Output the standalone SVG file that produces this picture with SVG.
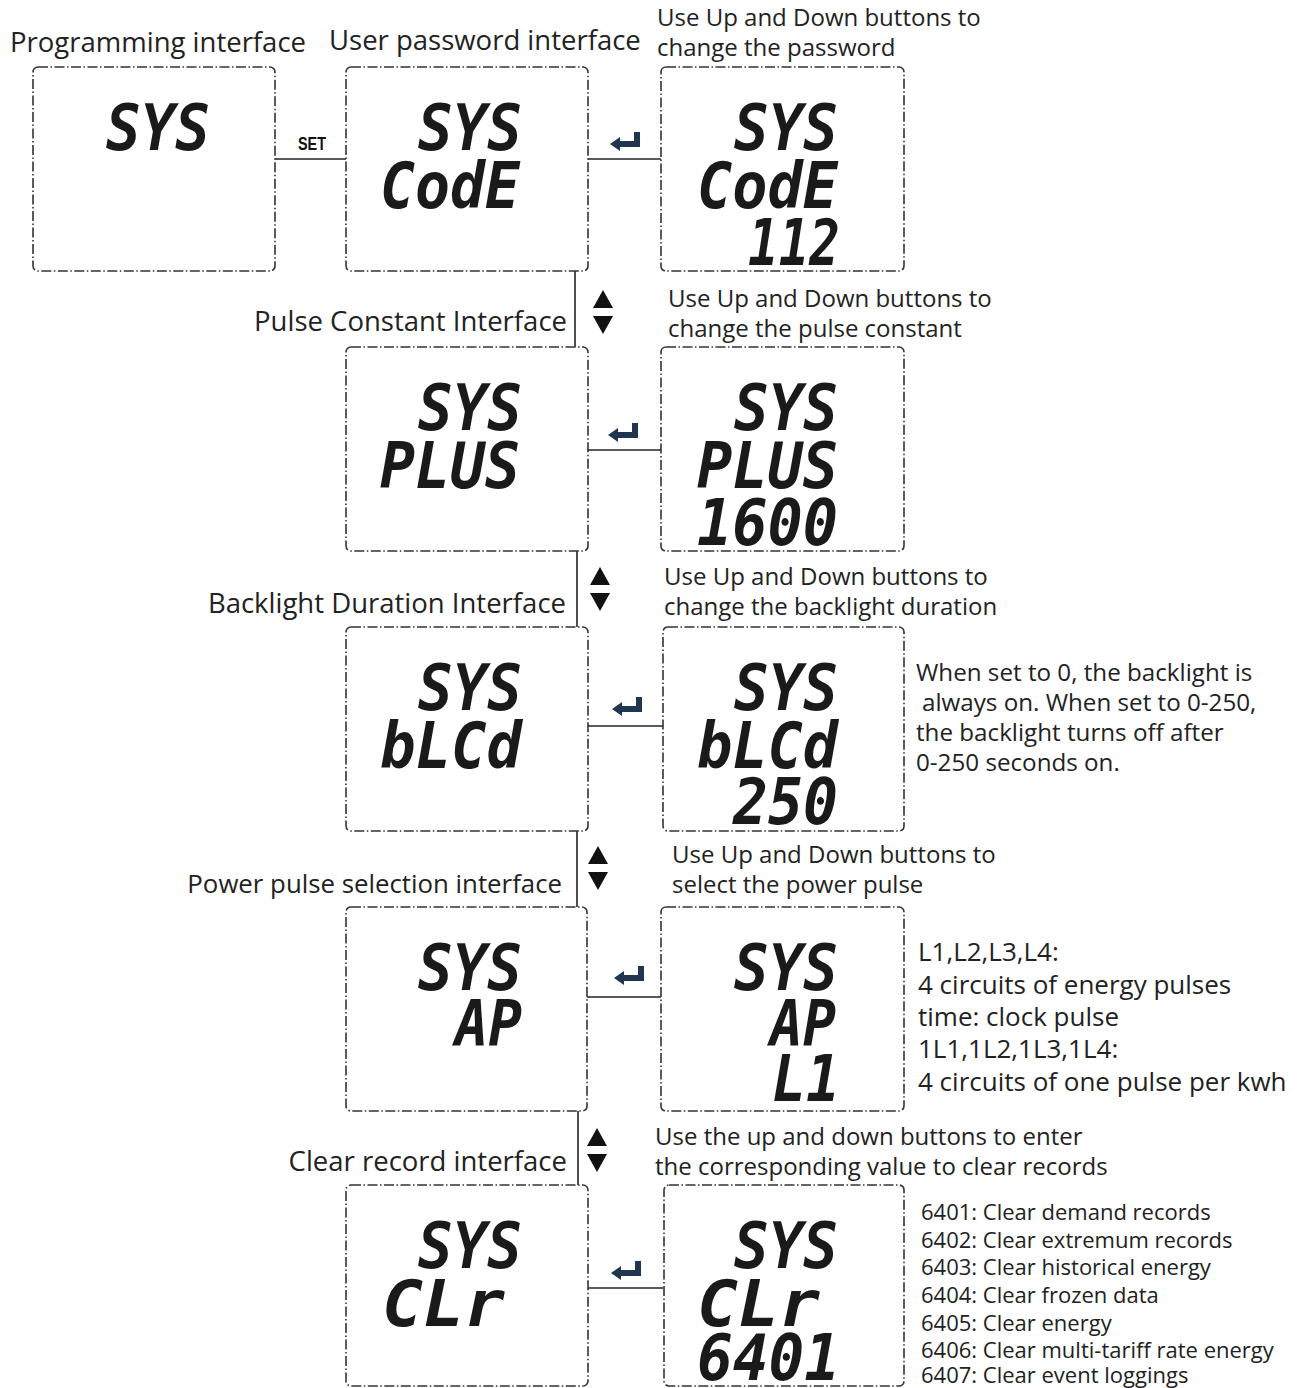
<svg xmlns="http://www.w3.org/2000/svg" width="1304" height="1388" viewBox="0 0 1304 1388">
<style>
.box{fill:#fff;stroke:#333;stroke-width:1.6;stroke-dasharray:10 2.5 1.5 2.5}
.lcd{font-family:"DejaVu Sans Mono",monospace;font-weight:bold;font-style:oblique;font-size:64px;fill:#1a1a1a}
.lbl{font-family:"Open Sans","Noto Sans",sans-serif;font-size:27.5px;fill:#222}
.hint{font-family:"Open Sans","Noto Sans",sans-serif;font-size:24px;fill:#222}
.note{font-family:"Open Sans","Noto Sans",sans-serif;font-size:24.2px;fill:#222}
.note3{font-family:"Open Sans","Noto Sans",sans-serif;font-size:26px;fill:#222}
.note2{font-family:"Open Sans","Noto Sans",sans-serif;font-size:22px;fill:#222}
.conn{stroke:#222;stroke-width:1.6;fill:none}
.tri{fill:#111}
</style>
<defs>
<g id="enter"><path d="M0,12 L10,5 L10,9 L24,9 L24,0 L30,0 L30,15 L10,15 L10,19 Z" fill="#1f3550"/></g>
<g id="updown"><path d="M0,18 L10,0 L20,18 Z M0,26 L20,26 L10,44 Z" class="tri"/></g>
</defs>
<rect width="1304" height="1388" fill="#fff"/>

<g id="connectors">
<line class="conn" x1="275" y1="159" x2="346" y2="159"/>
<line class="conn" x1="588" y1="159" x2="661" y2="159"/>
<line class="conn" x1="588" y1="450" x2="661" y2="450"/>
<line class="conn" x1="588" y1="726" x2="663" y2="726"/>
<line class="conn" x1="587" y1="997" x2="661" y2="997"/>
<line class="conn" x1="588" y1="1288" x2="663" y2="1288"/>
<line class="conn" x1="575" y1="271" x2="575" y2="347"/>
<line class="conn" x1="577" y1="551" x2="577" y2="627"/>
<line class="conn" x1="577" y1="831" x2="577" y2="907"/>
<line class="conn" x1="578" y1="1111" x2="578" y2="1185"/>
<text x="312" y="150" text-anchor="middle" font-family="Liberation Sans Narrow,Liberation Sans,sans-serif" font-weight="bold" font-size="19" textLength="28" lengthAdjust="spacingAndGlyphs" fill="#111">SET</text>
<use href="#enter" x="610" y="132"/>
<use href="#enter" x="608" y="423"/>
<use href="#enter" x="612" y="697"/>
<use href="#enter" x="614" y="966"/>
<use href="#enter" x="611" y="1261"/>
<use href="#updown" x="593" y="290"/>
<use href="#updown" x="590" y="567"/>
<use href="#updown" x="588" y="846"/>
<use href="#updown" x="587" y="1128"/>
</g>

<g id="labels">
<text class="lbl" x="10" y="52">Programming interface</text>
<text class="lbl" x="329" y="50">User password interface</text>
<text class="hint" x="657" y="26">Use Up and Down buttons to</text>
<text class="hint" x="657" y="56">change the password</text>
<text class="lbl" x="567" y="331" text-anchor="end">Pulse Constant Interface</text>
<text class="hint" x="668" y="307">Use Up and Down buttons to</text>
<text class="hint" x="668" y="337">change the pulse constant</text>
<text class="lbl" x="566" y="613" text-anchor="end">Backlight Duration Interface</text>
<text class="hint" x="664" y="585">Use Up and Down buttons to</text>
<text class="hint" x="664" y="615">change the backlight duration</text>
<text class="lbl" x="562" y="893" text-anchor="end" style="font-size:25.8px">Power pulse selection interface</text>
<text class="hint" x="672" y="863">Use Up and Down buttons to</text>
<text class="hint" x="672" y="893">select the power pulse</text>
<text class="lbl" x="567" y="1171" text-anchor="end">Clear record interface</text>
<text class="hint" x="655" y="1145">Use the up and down buttons to enter</text>
<text class="hint" x="655" y="1175">the corresponding value to clear records</text>
</g>

<g id="n-prog">
<rect class="box" x="33" y="67" width="242" height="204" rx="5"/>
<text class="lcd" x="210" y="150" text-anchor="end" textLength="104" lengthAdjust="spacingAndGlyphs">SYS</text>
</g>
<g id="n-code">
<rect class="box" x="346" y="67" width="242" height="204" rx="5"/>
<text class="lcd" x="522" y="150" text-anchor="end" textLength="104" lengthAdjust="spacingAndGlyphs">SYS</text>
<text class="lcd" x="520" y="208" text-anchor="end" textLength="140" lengthAdjust="spacingAndGlyphs">CodE</text>
</g>
<g id="n-code-set">
<rect class="box" x="661" y="67" width="243" height="204" rx="5"/>
<text class="lcd" x="838" y="150" text-anchor="end" textLength="104" lengthAdjust="spacingAndGlyphs">SYS</text>
<text class="lcd" x="838" y="208" text-anchor="end" textLength="141" lengthAdjust="spacingAndGlyphs">CodE</text>
<text class="lcd" x="840" y="265" text-anchor="end" textLength="92" lengthAdjust="spacingAndGlyphs">112</text>
</g>

<g id="n-plus">
<rect class="box" x="346" y="347" width="242" height="204" rx="5"/>
<text class="lcd" x="522" y="430" text-anchor="end" textLength="104" lengthAdjust="spacingAndGlyphs">SYS</text>
<text class="lcd" x="520" y="488" text-anchor="end" textLength="140" lengthAdjust="spacingAndGlyphs">PLUS</text>
</g>
<g id="n-plus-set">
<rect class="box" x="661" y="347" width="243" height="204" rx="5"/>
<text class="lcd" x="838" y="430" text-anchor="end" textLength="104" lengthAdjust="spacingAndGlyphs">SYS</text>
<text class="lcd" x="838" y="488" text-anchor="end" textLength="141" lengthAdjust="spacingAndGlyphs">PLUS</text>
<text class="lcd" x="838" y="545" text-anchor="end" textLength="141" lengthAdjust="spacingAndGlyphs">1600</text>
</g>

<g id="n-blcd">
<rect class="box" x="346" y="627" width="242" height="204" rx="5"/>
<text class="lcd" x="522" y="710" text-anchor="end" textLength="104" lengthAdjust="spacingAndGlyphs">SYS</text>
<text class="lcd" x="522" y="768" text-anchor="end" textLength="142" lengthAdjust="spacingAndGlyphs">bLCd</text>
</g>
<g id="n-blcd-set">
<rect class="box" x="663" y="627" width="241" height="204" rx="5"/>
<text class="lcd" x="838" y="710" text-anchor="end" textLength="104" lengthAdjust="spacingAndGlyphs">SYS</text>
<text class="lcd" x="838" y="768" text-anchor="end" textLength="141" lengthAdjust="spacingAndGlyphs">bLCd</text>
<text class="lcd" x="838" y="824" text-anchor="end" textLength="105" lengthAdjust="spacingAndGlyphs">250</text>
</g>
<g id="note-blcd">
<text class="note" x="916" y="681">When set to 0, the backlight is</text>
<text class="note" x="922" y="711">always on. When set to 0-250,</text>
<text class="note" x="916" y="741">the backlight turns off after</text>
<text class="note" x="916" y="771">0-250 seconds on.</text>
</g>

<g id="n-ap">
<rect class="box" x="346" y="907" width="241" height="204" rx="5"/>
<text class="lcd" x="522" y="990" text-anchor="end" textLength="104" lengthAdjust="spacingAndGlyphs">SYS</text>
<text class="lcd" x="522" y="1046" text-anchor="end" textLength="67" lengthAdjust="spacingAndGlyphs">AP</text>
</g>
<g id="n-ap-set">
<rect class="box" x="661" y="907" width="243" height="204" rx="5"/>
<text class="lcd" x="838" y="990" text-anchor="end" textLength="104" lengthAdjust="spacingAndGlyphs">SYS</text>
<text class="lcd" x="836" y="1046" text-anchor="end" textLength="66" lengthAdjust="spacingAndGlyphs">AP</text>
<text class="lcd" x="840" y="1101" text-anchor="end" textLength="68" lengthAdjust="spacingAndGlyphs">L1</text>
</g>
<g id="note-ap">
<text class="note3" x="918" y="961">L1,L2,L3,L4:</text>
<text class="note3" x="918" y="994">4 circuits of energy pulses</text>
<text class="note3" x="918" y="1026">time: clock pulse</text>
<text class="note3" x="918" y="1058">1L1,1L2,1L3,1L4:</text>
<text class="note3" x="918" y="1091">4 circuits of one pulse per kwh</text>
</g>

<g id="n-clr">
<rect class="box" x="346" y="1185" width="242" height="201" rx="5"/>
<text class="lcd" x="522" y="1268" text-anchor="end" textLength="104" lengthAdjust="spacingAndGlyphs">SYS</text>
<text class="lcd" x="505" y="1326" text-anchor="end" textLength="123" lengthAdjust="spacingAndGlyphs">CLr</text>
</g>
<g id="n-clr-set">
<rect class="box" x="664" y="1185" width="240" height="201" rx="5"/>
<text class="lcd" x="838" y="1268" text-anchor="end" textLength="104" lengthAdjust="spacingAndGlyphs">SYS</text>
<text class="lcd" x="820" y="1326" text-anchor="end" textLength="123" lengthAdjust="spacingAndGlyphs">CLr</text>
<text class="lcd" x="840" y="1380" text-anchor="end" textLength="143" lengthAdjust="spacingAndGlyphs">6401</text>
</g>
<g id="note-clr">
<text class="note2" x="921" y="1220">6401: Clear demand records</text>
<text class="note2" x="921" y="1248">6402: Clear extremum records</text>
<text class="note2" x="921" y="1275">6403: Clear historical energy</text>
<text class="note2" x="921" y="1303">6404: Clear frozen data</text>
<text class="note2" x="921" y="1331">6405: Clear energy</text>
<text class="note2" x="921" y="1358">6406: Clear multi-tariff rate energy</text>
<text class="note2" x="921" y="1383">6407: Clear event loggings</text>
</g>
</svg>
